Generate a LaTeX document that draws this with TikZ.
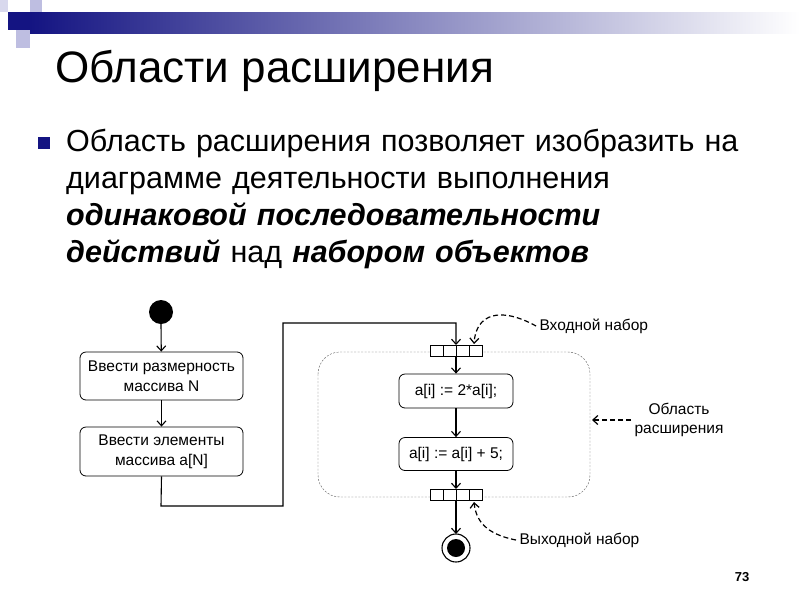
\documentclass[tikz,border=0pt]{standalone}
\usepackage{fontspec}
\setmainfont{Liberation Sans}
\usetikzlibrary{arrows.meta}
\definecolor{navy}{RGB}{20,20,130}
\definecolor{lightn}{RGB}{190,190,225}
\tikzset{
 act/.style={draw, line width=0.8pt, rounded corners=6pt, align=center, font=\fontsize{15.5}{20}\selectfont, inner sep=0pt},
 flow/.style={-{Straight Barb[length=5pt,width=9pt]}, line width=1.1pt},
 callout/.style={dash pattern=on 5pt off 3pt, line width=1.2pt, -{Straight Barb[length=5pt,width=9pt]}},
 lbl/.style={font=\fontsize{15.5}{19}\selectfont, align=center},
 pin/.style={draw, line width=0.8pt, minimum width=13pt, minimum height=11pt, inner sep=0pt}
}
\begin{document}
\begin{tikzpicture}[x=1pt,y=-1pt]
\useasboundingbox (0,0) rectangle (800,600);
% decoration
\shade[left color=navy, right color=white] (30,12) rectangle (800,33);
\fill[lightn] (30,0) rectangle (42,12);
\fill[navy] (8,12) rectangle (30,30);
\fill[lightn] (16,30) rectangle (30,48);
\fill[lightn!60] (0,0) rectangle (8,12);
% title
\node[anchor=base west, inner sep=0pt, font=\fontsize{44}{48}\selectfont] (title) at (55,82) {Области расширения};
\fill[navy] (38,137) rectangle (50,149);
\node[anchor=base west, inner sep=0pt, align=left, font=\fontsize{30.5}{37}\selectfont, text width=730pt] (body) at (66,151)
 {Область расширения позволяет изобразить на\\ диаграмме деятельности выполнения\\ \textbf{\textit{одинаковой последовательности}}\\ \textbf{\textit{действий}} над \textbf{\textit{набором объектов}}};
% region
\draw[gray!70!black, thin, dash pattern=on 2pt off 1.5pt, rounded corners=22pt] (318,352) rectangle (590,497);
% nodes
\fill (161,312) circle (12);
\node[act, minimum width=163pt, minimum height=48pt] (b1) at (161.5,376) {Ввести размерность\\массива N};
\node[act, minimum width=163pt, minimum height=49pt] (b2) at (161.5,451.5) {Ввести элементы\\массива a[N]};
\node[act, minimum width=114pt, minimum height=34pt] (b3) at (456,391) {a[i] := 2*a[i];};
\node[act, minimum width=114pt, minimum height=33pt] (b4) at (456,454) {a[i] := a[i] + 5;};
\foreach \i/\x in {1/436.5,2/449.5,3/462.5,4/475.5}{
 \node[pin, fill=white] (ip\i) at (\x,350.5) {};
 \node[pin, fill=white] (op\i) at (\x,494.5) {};
}
\coordinate (ipc) at (456,345);
\coordinate (opc) at (456,500);
\draw[line width=1.1pt] (456,548) circle (14);
\fill (456,548) circle (9);
\coordinate (fin) at (456,534);
\coordinate (init) at (161,324);
% flows
\draw[flow] (init) -- (b1);
\draw[flow] (b1) -- (b2);
\draw[flow] (b2.south) -- (161,506) -- (283,506) -- (283,323) -- (456,323) -- (ipc);
\draw[flow] (456,356) -- (b3.north);
\draw[flow] (b3.south) -- (b4.north);
\draw[flow] (b4.south) -- (456,489);
\draw[flow] (opc) -- (fin);
% callouts
\node[lbl, anchor=west] (lin) at (536,326) {Входной набор};
\node[lbl] (lreg) at (679,420) {Область\\расширения};
\node[lbl, anchor=west] (lout) at (516,540) {Выходной набор};
\draw[callout] (lin.west) .. controls (500,306) and (476,314) .. (474,344);
\draw[callout] (lreg.west) -- (592,420);
\draw[callout] (lout.west) .. controls (485,534) and (476,520) .. (474,502);
\node[font=\fontsize{13}{15}\selectfont\bfseries] (pg) at (742,577) {73};
\end{tikzpicture}
\end{document}
